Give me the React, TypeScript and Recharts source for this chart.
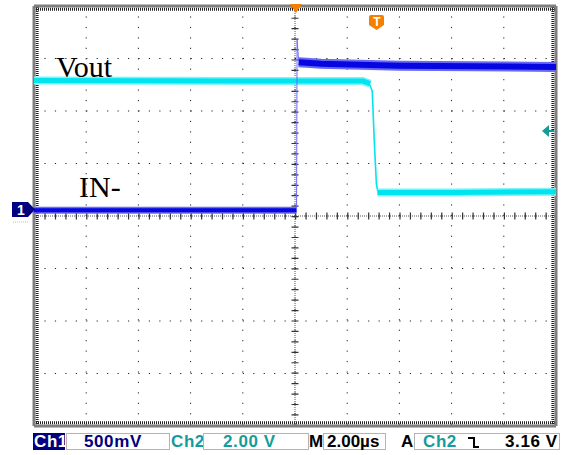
import { CartesianGrid, Line, LineChart, ReferenceLine, XAxis, YAxis } from "recharts";

// time in µs (2 µs/div, trigger at centre), level in screen divisions
const timeTicks = [-10, -8, -6, -4, -2, 0, 2, 4, 6, 8, 10];
const divTicks = [-4, -3, -2, -1, 0, 1, 2, 3, 4];

// Ch1 (IN-), 500 mV/div
const inLow = [
  { t: -10, v: 0.11 },
  { t: 0.06, v: 0.11 },
];
const inEdge = [
  { t: 0.06, v: 0.11 },
  { t: 0.08, v: 3.35 },
  { t: 0.14, v: 2.95 },
];
const inHigh = [
  { t: 0.14, v: 2.93 },
  { t: 1, v: 2.9 },
  { t: 4, v: 2.86 },
  { t: 10, v: 2.84 },
];

// Ch2 (Vout), 2.00 V/div
const outHigh = [
  { t: -10, v: 2.58 },
  { t: 2.6, v: 2.57 },
  { t: 2.88, v: 2.52 },
];
const outEdge = [
  { t: 2.84, v: 2.53 },
  { t: 2.96, v: 2.38 },
  { t: 3.04, v: 1.4 },
  { t: 3.12, v: 0.6 },
  { t: 3.18, v: 0.45 },
];
const outLow = [
  { t: 3.16, v: 0.45 },
  { t: 6, v: 0.45 },
  { t: 10, v: 0.46 },
];

const BLUE = "#0606e0";
const BLUE_HALO = "#6a6af4";
const CYAN = "#00e4f0";
const CYAN_HALO = "#7ef2f8";
const TEAL = "#169b9b";
const NAVY = "#000080";
const ORANGE = "#f57f00";

const dotDash = "1.2 9.24";

export default function App() {
  const font = "'Liberation Sans', Arial, sans-serif";
  const box = {
    position: "absolute" as const,
    top: 433,
    height: 17,
    border: "1px solid #b4b4b4",
    boxSizing: "border-box" as const,
  };
  const txt = {
    position: "absolute" as const,
    top: 432,
    fontFamily: font,
    fontWeight: 700,
    fontSize: 17,
    lineHeight: "19px",
    letterSpacing: 0.6,
    whiteSpace: "nowrap" as const,
  };
  return (
    <div style={{ position: "fixed", left: 0, top: 0, width: 563, height: 455, background: "#fff" }}>
      <LineChart width={563} height={455} margin={{ top: 6, right: 7, left: 34, bottom: 29 }}>
        <XAxis type="number" dataKey="t" domain={[-10, 10]} ticks={timeTicks} hide allowDataOverflow />
        <YAxis type="number" dataKey="v" domain={[-4, 4]} ticks={divTicks} hide allowDataOverflow />
        <CartesianGrid stroke="#222" strokeDasharray={dotDash} />
        <ReferenceLine y={0} stroke="#555" strokeDasharray="1 1" />
        <ReferenceLine y={0} stroke="#333" strokeWidth={7} strokeDasharray={dotDash} />
        <ReferenceLine x={0} stroke="#555" strokeDasharray="1 1" />
        <ReferenceLine x={0} stroke="#333" strokeWidth={7} strokeDasharray={dotDash} />
        <ReferenceLine y={3.94} stroke="#222" strokeWidth={3} strokeDasharray="1 1" />
        <ReferenceLine y={-3.94} stroke="#222" strokeWidth={3} strokeDasharray="1 1" />
        <ReferenceLine x={-9.88} stroke="#222" strokeWidth={3} strokeDasharray="1 1" />
        <ReferenceLine x={9.88} stroke="#222" strokeWidth={3} strokeDasharray="1 1" />
        <ReferenceLine y={4} stroke="#7f7f7f" strokeWidth={3} />
        <ReferenceLine y={-4} stroke="#7f7f7f" strokeWidth={3} />
        <ReferenceLine x={-10} stroke="#7f7f7f" strokeWidth={3} />
        <ReferenceLine x={10} stroke="#7f7f7f" strokeWidth={3} />

        <Line data={outHigh} dataKey="v" stroke={CYAN_HALO} strokeWidth={8} dot={false} isAnimationActive={false} />
        <Line data={outHigh} dataKey="v" stroke={CYAN} strokeWidth={5} dot={false} isAnimationActive={false} />
        <Line data={outEdge} dataKey="v" stroke={CYAN} strokeWidth={1.6} dot={false} isAnimationActive={false} />
        <Line data={outLow} dataKey="v" stroke={CYAN_HALO} strokeWidth={8} dot={false} isAnimationActive={false} />
        <Line data={outLow} dataKey="v" stroke={CYAN} strokeWidth={5} dot={false} isAnimationActive={false} />

        <Line data={inLow} dataKey="v" stroke={BLUE_HALO} strokeWidth={7} dot={false} isAnimationActive={false} />
        <Line data={inLow} dataKey="v" stroke={BLUE} strokeWidth={4} dot={false} isAnimationActive={false} />
        <Line data={inEdge} dataKey="v" stroke={BLUE_HALO} strokeWidth={1} dot={false} isAnimationActive={false} />
        <Line data={inHigh} dataKey="v" stroke={BLUE_HALO} strokeWidth={10} dot={false} isAnimationActive={false} />
        <Line data={inHigh} dataKey="v" stroke={BLUE} strokeWidth={6} dot={false} isAnimationActive={false} />
      </LineChart>

      {/* trace labels */}
      <div style={{ position: "absolute", left: 56, top: 50, fontFamily: "'Liberation Serif', 'Times New Roman', serif", fontSize: 30, lineHeight: "34px", color: "#000" }}>
        Vout
      </div>
      <div style={{ position: "absolute", left: 79, top: 170, fontFamily: "'Liberation Serif', 'Times New Roman', serif", fontSize: 30, lineHeight: "34px", color: "#000" }}>
        IN-
      </div>

      {/* scope markers */}
      <svg width={563} height={455} style={{ position: "absolute", left: 0, top: 0, pointerEvents: "none" }}>
        <polygon points="290,4 302,4 296,13" fill={ORANGE} />
        <path d="M371,15 h11 a2,2 0 0 1 2,2 v8 l-7.5,5 l-7.5,-5 v-8 a2,2 0 0 1 2,-2 z" fill={ORANGE} />
        <text x={377} y={26} textAnchor="middle" fill="#fff" fontFamily={font} fontWeight={700} fontSize={12}>T</text>
        <path d="M12,202 h16 l7,7.5 l-7,7.5 h-16 z" fill={NAVY} />
        <text x={21} y={215} textAnchor="middle" fill="#fff" fontFamily={font} fontWeight={700} fontSize={14}>1</text>
        <line x1={13} y1={222} x2={28} y2={222} stroke="#7ad6e0" strokeDasharray="1 1" />
        <polygon points="542,131 549,125 549,137" fill={TEAL} />
        <line x1={548} y1={131} x2={554} y2={131} stroke={TEAL} strokeWidth={2} />
        <polyline points="468,438 474,438 474,447 479,447" fill="none" stroke="#000" strokeWidth={2} />
      </svg>

      {/* status bar */}
      <div style={{ ...box, left: 33, width: 32, background: NAVY, border: "none" }} />
      <div style={{ ...txt, left: 34, color: "#fff" }}>Ch1</div>
      <div style={{ ...box, left: 66, width: 104 }} />
      <div style={{ ...txt, left: 84, color: NAVY }}>500mV</div>
      <div style={{ ...txt, left: 171, color: TEAL }}>Ch2</div>
      <div style={{ ...box, left: 203, width: 106 }} />
      <div style={{ ...txt, left: 223, color: TEAL }}>2.00 V</div>
      <div style={{ ...txt, left: 309, color: "#000" }}>M</div>
      <div style={{ ...box, left: 323, width: 63 }} />
      <div style={{ ...txt, left: 327, color: "#000", letterSpacing: 0 }}>2.00µs</div>
      <div style={{ ...txt, left: 401, color: "#000" }}>A</div>
      <div style={{ ...box, left: 414, width: 146 }} />
      <div style={{ ...txt, left: 423, color: TEAL }}>Ch2</div>
      <div style={{ ...txt, left: 505, color: "#000" }}>3.16 V</div>
    </div>
  );
}
